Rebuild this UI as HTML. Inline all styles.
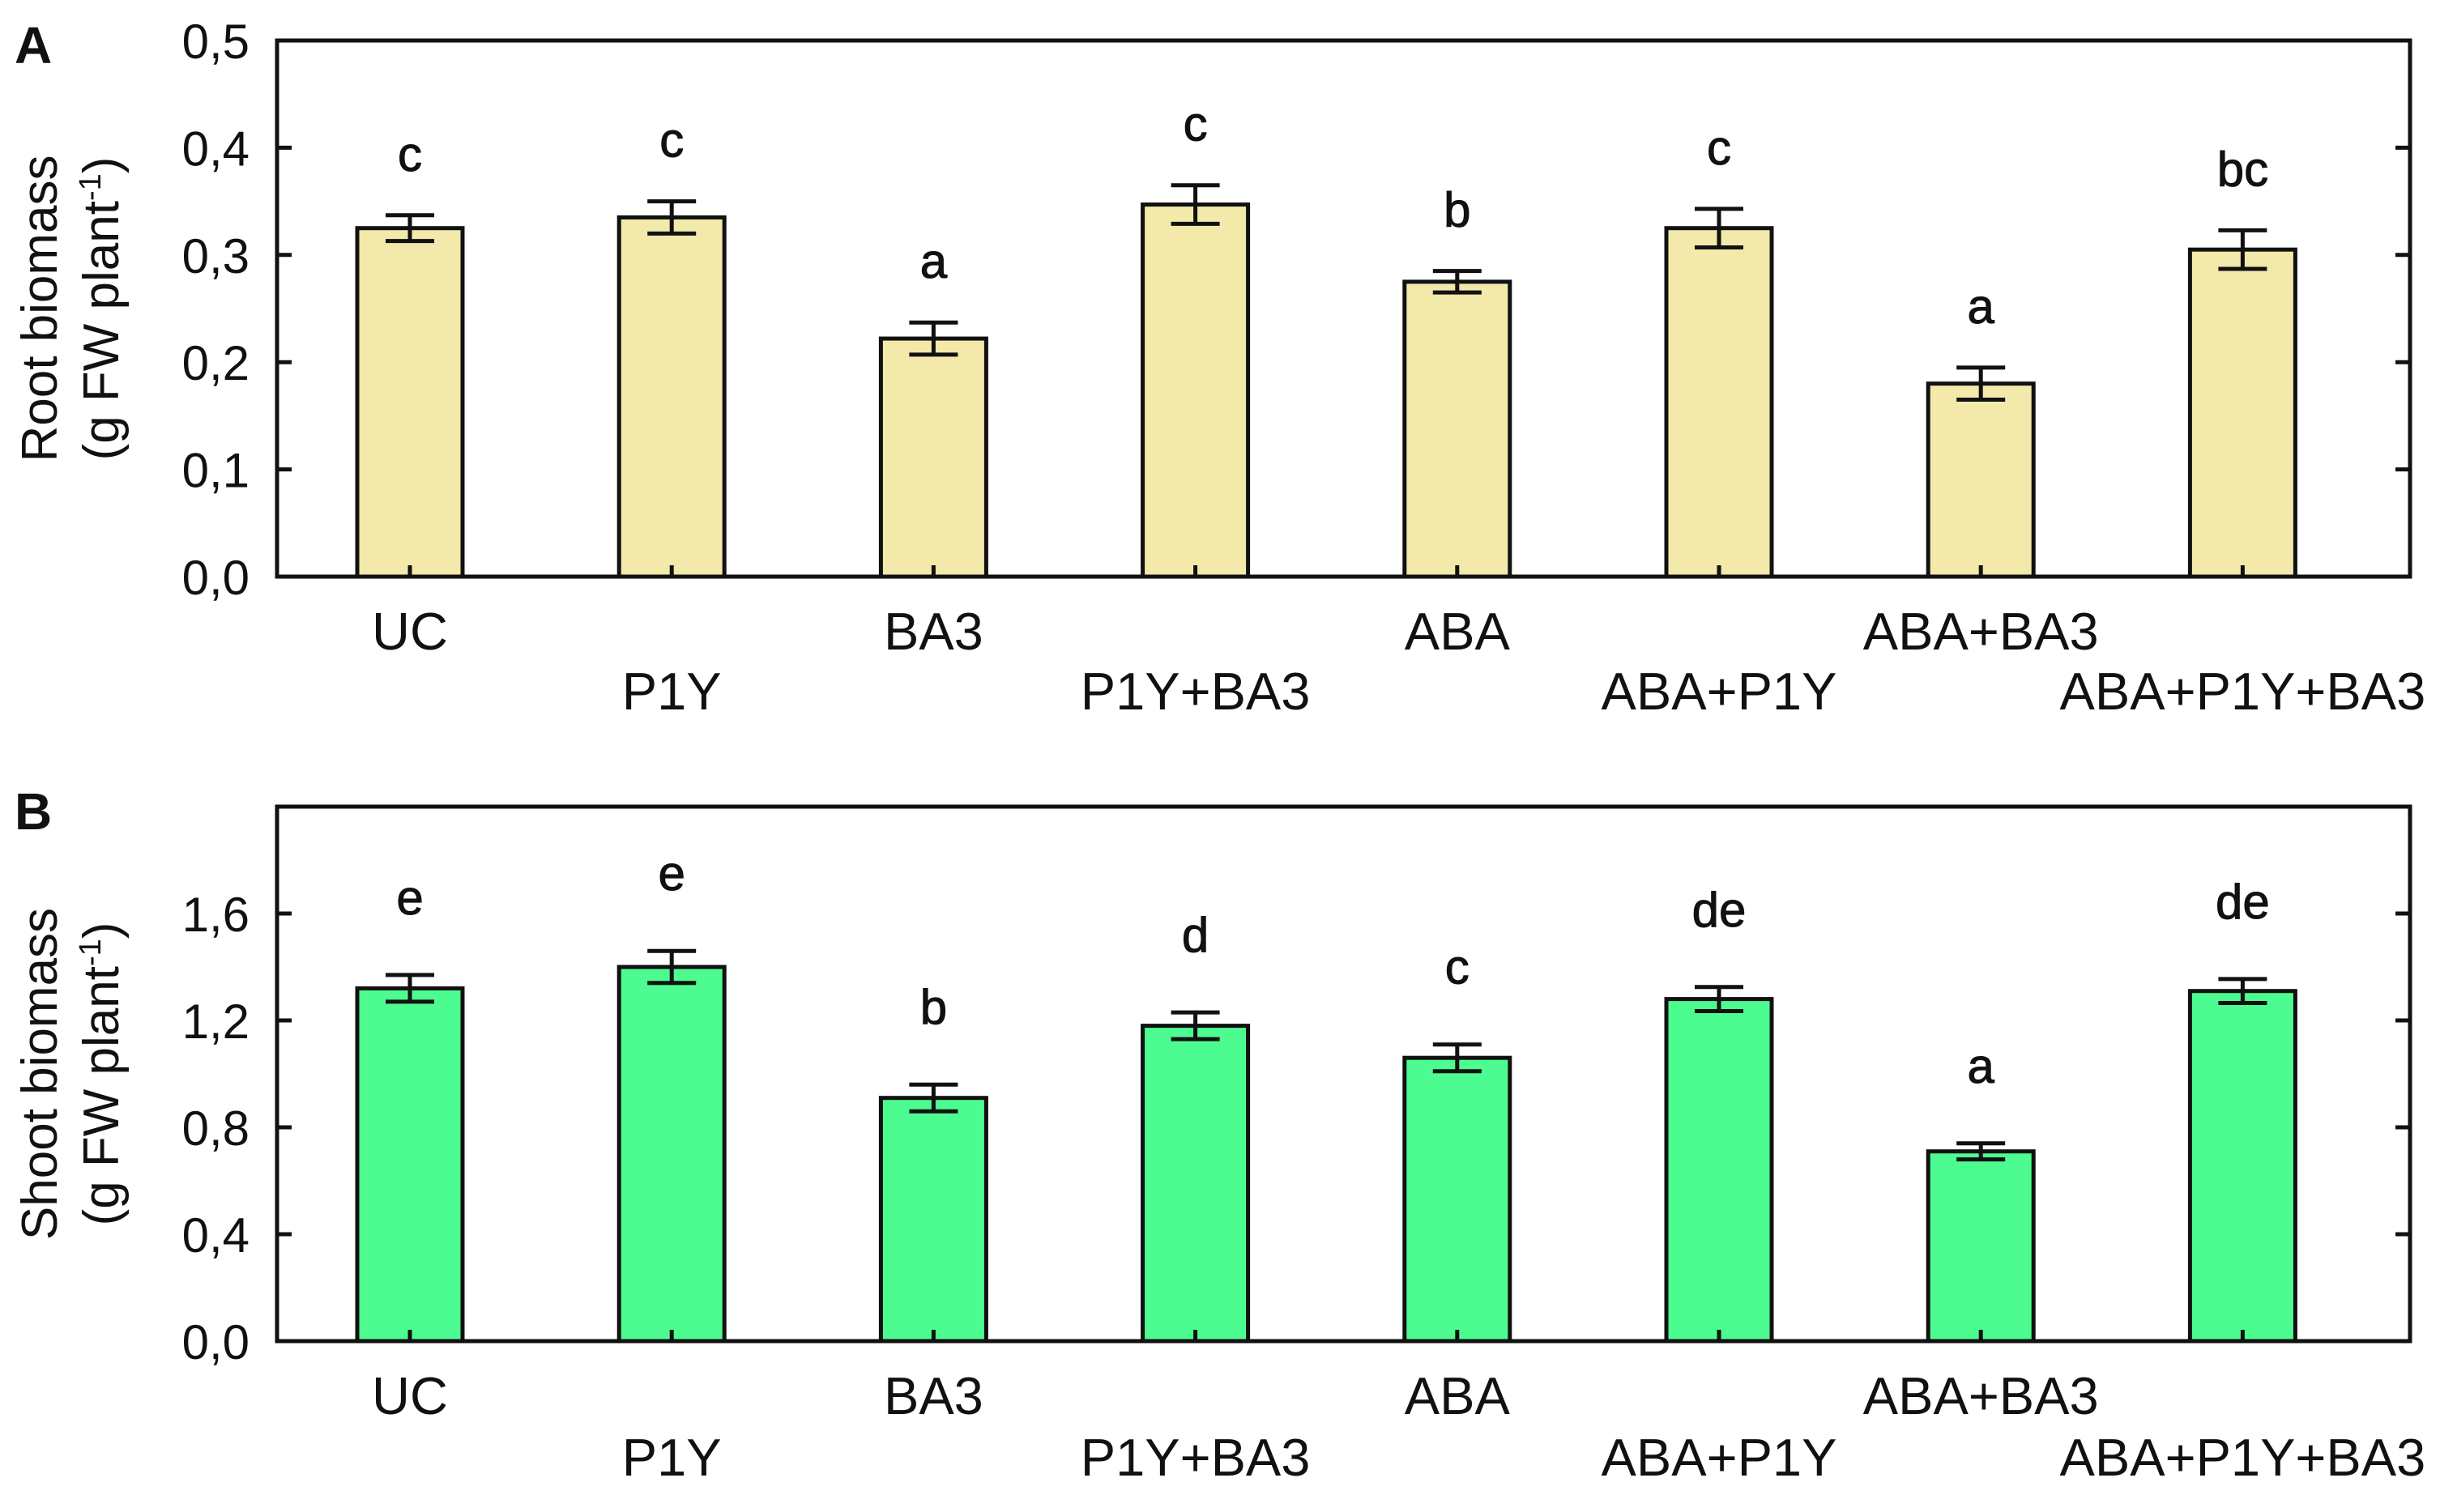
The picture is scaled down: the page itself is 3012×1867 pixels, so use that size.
<!DOCTYPE html>
<html><head><meta charset="utf-8"><style>
html,body{margin:0;padding:0;background:#fff;}
svg{display:block;font-family:"Liberation Sans",Arial,sans-serif;}
</style></head><body>
<svg id="fig" width="3012" height="1867" viewBox="0 0 3012 1867"></svg>
<script>
const categories = ["UC","P1Y","BA3","P1Y+BA3","ABA","ABA+P1Y","ABA+BA3","ABA+P1Y+BA3"];
const rootValues = [0.325,0.335,0.222,0.347,0.275,0.325,0.180,0.305];
const rootErrors = [0.012,0.015,0.015,0.018,0.010,0.018,0.015,0.018];
const rootLetters = ["c","c","a","c","b","c","a","bc"];
const rootTicks = [0,0.1,0.2,0.3,0.4,0.5];
const rootTickLabels = ["0,0","0,1","0,2","0,3","0,4","0,5"];
const shootValues = [1.32,1.40,0.91,1.18,1.06,1.28,0.71,1.31];
const shootErrors = [0.05,0.06,0.05,0.05,0.05,0.045,0.03,0.045];
const shootLetters = ["e","e","b","d","c","de","a","de"];
const shootTicks = [0,0.4,0.8,1.2,1.6];
const shootTickLabels = ["0,0","0,4","0,8","1,2","1,6"];

const NS="http://www.w3.org/2000/svg";
const svg=document.getElementById('fig');
function mk(tag,attrs,parent,text){const e=document.createElementNS(NS,tag);for(const k in attrs)e.setAttribute(k,attrs[k]);if(text!==undefined)e.textContent=text;(parent||svg).appendChild(e);return e;}

function panel(opt){
  const g=mk('g',{});
  
  
  const L=342,R=2975,T=opt.top,B=opt.bottom;
  const y=v=>B-(v/opt.max)*(B-T);
  const x=i=>506+i*323.2;
  const bw=130;
  const fr=mk('rect',{x:L,y:T,width:R-L,height:B-T,fill:'none',stroke:'#111','stroke-width':5},g);
  
  
  opt.ticks.forEach((t,k)=>{
    const yy=y(t);
    mk('line',{x1:L,x2:L+18,y1:yy,y2:yy,stroke:'#111','stroke-width':5},g);
    mk('line',{x1:R-18,x2:R,y1:yy,y2:yy,stroke:'#111','stroke-width':5},g);
    const tl=mk('text',{x:308,y:yy+22,'text-anchor':'end','font-size':60,fill:'#111'},g,opt.tickLabels[k]);
    
    
  });
  opt.values.forEach((v,i)=>{
    const cx=x(i);
    const bar=mk('rect',{x:cx-bw/2,y:y(v),width:bw,height:B-y(v),fill:opt.fill,stroke:'#111','stroke-width':5},g);
    
    
    mk('line',{x1:cx,x2:cx,y1:B,y2:B-14,stroke:'#111','stroke-width':5},g);
    const e=opt.errors[i],yt=y(v+e),yb=y(v-e);
    const eb=mk('path',{d:`M${cx},${yt}V${yb}M${cx-30},${yt}H${cx+30}M${cx-30},${yb}H${cx+30}`,stroke:'#111','stroke-width':5,fill:'none'},g);
    
    
    const lt=mk('text',{x:cx,y:yt-opt.letterGap,'text-anchor':'middle','font-size':60,fill:'#111','stroke':'#111','stroke-width':1},g,opt.letters[i]);
    
    
    const xl=mk('text',{x:cx,y:(i%2===0?opt.row1:opt.row2),'text-anchor':'middle','font-size':65,fill:'#111'},g,categories[i]);
    
    
  });
  const pl=mk('text',{x:18,y:T+28,'font-size':64,'font-weight':'bold',fill:'#111'},g,opt.letter);
  
  
  const cy=(T+B)/2;
  const t1=mk('text',{x:70,y:cy,'text-anchor':'middle','font-size':62,fill:'#111',transform:`rotate(-90 70 ${cy})`},g,opt.title);
  
  
  const t2=mk('text',{x:146,y:cy,'text-anchor':'middle','font-size':62,fill:'#111',transform:`rotate(-90 146 ${cy})`},g);
  
  
  mk('tspan',{},t2,'(g FW plant');
  mk('tspan',{dy:-22,'font-size':38},t2,'-1');
  mk('tspan',{dy:22},t2,')');
}
panel({name:'panel-a-root-biomass',letter:'A',title:'Root biomass',top:50,bottom:712,max:0.5,values:rootValues,errors:rootErrors,letters:rootLetters,ticks:rootTicks,tickLabels:rootTickLabels,fill:'#f2e9aa',row1:802,row2:876,letterGap:55});
panel({name:'panel-b-shoot-biomass',letter:'B',title:'Shoot biomass',top:996,bottom:1656,max:2.0,values:shootValues,errors:shootErrors,letters:shootLetters,ticks:shootTicks,tickLabels:shootTickLabels,fill:'#4dfc90',row1:1746,row2:1822,letterGap:75});
</script>
</body></html>
